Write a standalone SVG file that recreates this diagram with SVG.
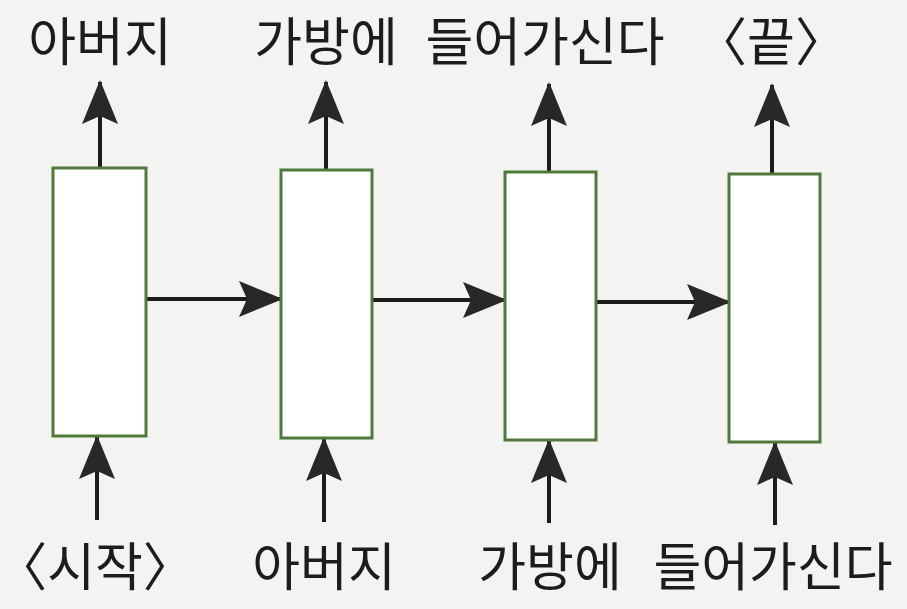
<svg xmlns="http://www.w3.org/2000/svg" width="907" height="609" viewBox="0 0 907 609">
  <style>
    .bg { fill: #f3f3f1; }
    .box { fill: #ffffff; stroke: #4f7a3c; stroke-width: 3; }
    .lbl { font-family: "Noto Sans CJK KR", "Noto Sans", sans-serif; font-size: 52px; fill: #1c1c1c; text-anchor: middle; }
    .br { font-feature-settings: "halt" 1; }
    .edge { stroke: #1c1c1c; stroke-width: 4; fill: none; marker-end: url(#ah); }
  </style>
  <defs>
    <marker id="ah" viewBox="0 0 44 36" refX="42" refY="18" markerWidth="44" markerHeight="36" markerUnits="userSpaceOnUse" orient="auto">
      <path d="M0,0 L44,18 L0,36 L8,18 Z" fill="#2a2727"/>
    </marker>
  </defs>
  <rect class="bg" x="0" y="0" width="907" height="609"/>

  <g id="connectors">
    <line class="edge" x1="100" y1="168" x2="100" y2="82"/>
    <line class="edge" x1="326" y1="170" x2="326" y2="82"/>
    <line class="edge" x1="549" y1="172" x2="549" y2="84"/>
    <line class="edge" x1="772" y1="174" x2="772" y2="85"/>
    <line class="edge" x1="97" y1="520" x2="97" y2="437"/>
    <line class="edge" x1="324" y1="522" x2="324" y2="439"/>
    <line class="edge" x1="549" y1="523" x2="549" y2="441"/>
    <line class="edge" x1="775" y1="525" x2="775" y2="443"/>
    <line class="edge" x1="146" y1="299" x2="281" y2="299"/>
    <line class="edge" x1="372" y1="300" x2="505" y2="300"/>
    <line class="edge" x1="596" y1="302" x2="729" y2="302"/>
  </g>

  <g id="cell1"><rect class="box" x="53" y="168" width="93" height="268"/></g>
  <g id="cell2"><rect class="box" x="281" y="170" width="91" height="268"/></g>
  <g id="cell3"><rect class="box" x="505" y="172" width="91" height="268"/></g>
  <g id="cell4"><rect class="box" x="729" y="174" width="91" height="268"/></g>

  <g id="out1"><text class="lbl" x="100" y="61">아버지</text></g>
  <g id="out2"><text class="lbl" x="326" y="61">가방에</text></g>
  <g id="out3"><text class="lbl" x="545" y="61">들어가신다</text></g>
  <g id="out4"><text class="lbl br" x="771" y="61">〈끝〉</text></g>

  <g id="in1"><text class="lbl br" x="95" y="586">〈시작〉</text></g>
  <g id="in2"><text class="lbl" x="324" y="586">아버지</text></g>
  <g id="in3"><text class="lbl" x="550" y="586">가방에</text></g>
  <g id="in4"><text class="lbl" x="773" y="586">들어가신다</text></g>
</svg>
